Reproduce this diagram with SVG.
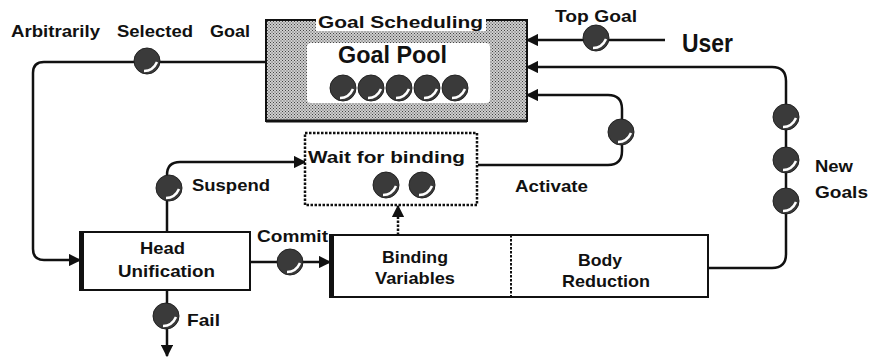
<svg xmlns="http://www.w3.org/2000/svg" width="872" height="358" viewBox="0 0 872 358">
<style>
.t{font-family:"Liberation Sans",Arial,sans-serif;font-weight:bold;fill:#111;font-size:17px}
.ln{fill:none;stroke:#111;stroke-width:2.5}
.box{fill:#fff;stroke:#111;stroke-width:2}
</style>
<defs>
<marker id="ah" viewBox="0 0 10 10" refX="9" refY="5" markerWidth="5" markerHeight="5" orient="auto" markerUnits="strokeWidth">
<path d="M0,0 L10,5 L0,10 z" fill="#111"/>
</marker>
<pattern id="stip" width="3" height="3" patternUnits="userSpaceOnUse">
<rect width="3" height="3" fill="#cfcfcf"/>
<rect width="1" height="1" fill="#444"/>
<rect x="1.5" y="1.5" width="1" height="1" fill="#444"/>
</pattern>
<g id="ball">
<circle r="13" fill="#3a3a3a" stroke="#222" stroke-width="1"/>
<path d="M-3,10 Q6,10 10,1" fill="none" stroke="#fff" stroke-width="2.5"/>
</g>
</defs>

<g id="connectors">
<path class="ln" d="M266,62 H44 Q33,62 33,73 V249 Q33,260 44,260 H80" marker-end="url(#ah)"/>
<path class="ln" d="M665,40 H527" marker-end="url(#ah)"/>
<path class="ln" d="M708,268 H772 Q786,268 786,254 V81 Q786,67 772,67 H527" marker-end="url(#ah)"/>
<path class="ln" d="M478,165 H608 Q622,165 622,151 V109 Q622,95 608,95 H527" marker-end="url(#ah)"/>
<path class="ln" d="M167,232 V175 Q167,162 180,162 H305" marker-end="url(#ah)"/>
<path class="ln" d="M250,262 H330" marker-end="url(#ah)"/>
<path class="ln" d="M167,290 V356" marker-end="url(#ah)"/>
<path class="ln" d="M398,235 V206" stroke-dasharray="2.5 1.5" marker-end="url(#ah)"/>
</g>

<g id="goal-pool">
<rect x="266" y="20" width="261" height="101" fill="url(#stip)" stroke="#111" stroke-width="2"/>
<line x1="266" y1="121" x2="527" y2="121" stroke="#111" stroke-width="3"/>
<rect x="316" y="12" width="170" height="19" fill="#fff"/>
<text class="t" x="318" y="28" textLength="165" lengthAdjust="spacingAndGlyphs">Goal Scheduling</text>
<rect x="307" y="43" width="183" height="60" rx="4" fill="#fff"/>
<text class="t" x="338" y="63" style="font-size:23px" textLength="109" lengthAdjust="spacingAndGlyphs">Goal Pool</text>
<use href="#ball" x="343" y="88"/>
<use href="#ball" x="371" y="88"/>
<use href="#ball" x="399" y="88"/>
<use href="#ball" x="427" y="88"/>
<use href="#ball" x="455" y="88"/>
</g>

<g id="arbitrary">
<text class="t" x="11" y="37" textLength="89" lengthAdjust="spacingAndGlyphs">Arbitrarily</text>
<text class="t" x="117" y="37" textLength="76" lengthAdjust="spacingAndGlyphs">Selected</text>
<text class="t" x="210" y="37" textLength="40" lengthAdjust="spacingAndGlyphs">Goal</text>
<use href="#ball" x="147" y="61"/>
</g>

<g id="user">
<text class="t" x="555" y="22" textLength="82" lengthAdjust="spacingAndGlyphs">Top Goal</text>
<use href="#ball" x="596" y="38"/>
<text class="t" x="682" y="52" style="font-size:25px" textLength="51" lengthAdjust="spacingAndGlyphs">User</text>
</g>

<g id="wait">
<rect x="305" y="133" width="172" height="72" fill="#fff" stroke="#111" stroke-width="2.5" stroke-dasharray="2.5 1.5"/>
<text class="t" x="308" y="163" textLength="157" lengthAdjust="spacingAndGlyphs">Wait for binding</text>
<use href="#ball" x="386" y="185"/>
<use href="#ball" x="422" y="185"/>
</g>

<g id="activate">
<use href="#ball" x="621" y="132"/>
<text class="t" x="515" y="192" textLength="73" lengthAdjust="spacingAndGlyphs">Activate</text>
</g>

<g id="new-goals">
<use href="#ball" x="786" y="117"/>
<use href="#ball" x="786" y="160"/>
<use href="#ball" x="786" y="201"/>
<text class="t" x="815" y="172" textLength="38" lengthAdjust="spacingAndGlyphs">New</text>
<text class="t" x="815" y="198" textLength="53" lengthAdjust="spacingAndGlyphs">Goals</text>
</g>

<g id="head-unification">
<rect class="box" x="80" y="232" width="170" height="58"/>
<line x1="82" y1="232" x2="82" y2="290" stroke="#111" stroke-width="4"/>
<text class="t" x="140" y="254" textLength="45" lengthAdjust="spacingAndGlyphs">Head</text>
<text class="t" x="118" y="277" textLength="97" lengthAdjust="spacingAndGlyphs">Unification</text>
</g>

<g id="suspend">
<use href="#ball" x="169" y="188"/>
<text class="t" x="192" y="191" textLength="78" lengthAdjust="spacingAndGlyphs">Suspend</text>
</g>

<g id="commit">
<text class="t" x="257" y="242" textLength="71" lengthAdjust="spacingAndGlyphs">Commit</text>
<use href="#ball" x="290" y="262"/>
</g>

<g id="fail">
<use href="#ball" x="166" y="316"/>
<text class="t" x="187" y="326" textLength="33" lengthAdjust="spacingAndGlyphs">Fail</text>
</g>

<g id="binding-body">
<rect class="box" x="330" y="235" width="378" height="62"/>
<line x1="332" y1="235" x2="332" y2="297" stroke="#111" stroke-width="4"/>
<line x1="511" y1="235" x2="511" y2="297" stroke="#111" stroke-width="2" stroke-dasharray="2.5 1.5"/>
<text class="t" x="382" y="263" textLength="66" lengthAdjust="spacingAndGlyphs">Binding</text>
<text class="t" x="375" y="284" textLength="80" lengthAdjust="spacingAndGlyphs">Variables</text>
<text class="t" x="578" y="266" textLength="44" lengthAdjust="spacingAndGlyphs">Body</text>
<text class="t" x="562" y="287" textLength="88" lengthAdjust="spacingAndGlyphs">Reduction</text>
</g>
</svg>
